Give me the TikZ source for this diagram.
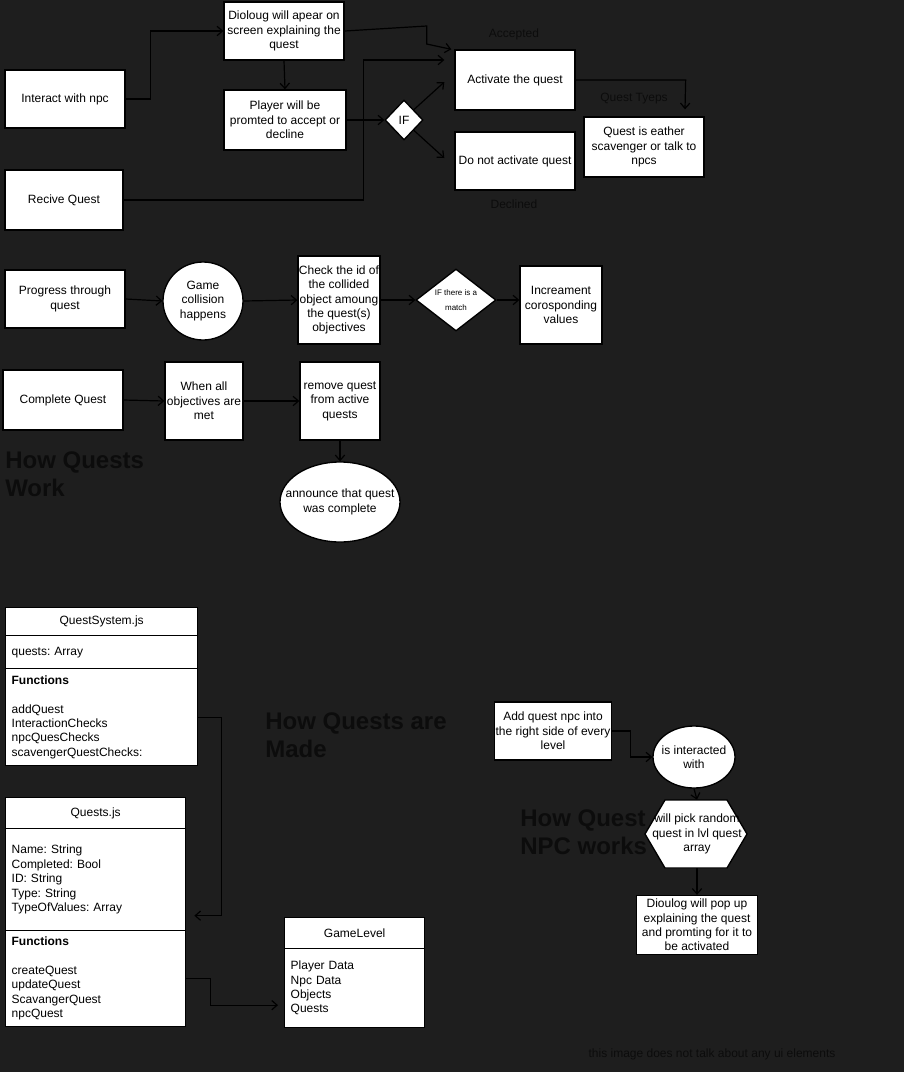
\documentclass[tikz,border=0pt]{standalone}
\usepackage{fontspec}
\setmainfont{Liberation Sans}
\frenchspacing
\usetikzlibrary{shapes.geometric,arrows.meta,calc}

\definecolor{canvas}{RGB}{30,30,30}
\definecolor{faint}{RGB}{12,12,12}

\tikzset{
  sz/.style 2 args={minimum width=#1*0.75pt,minimum height=#2*0.75pt},
  txt/.style={align=center,inner sep=0pt,font=\fontsize{9}{10.8}\selectfont},
  box/.style={txt,draw=black,line width=1pt,fill=white},
  oval/.style={draw=black,line width=1pt,fill=white,ellipse,inner sep=0pt},
  decide/.style={box,diamond},
  head/.style={box,anchor=north west},
  field/.style={draw=black,line width=1pt,fill=white,anchor=north west,inner xsep=4.5pt,inner ysep=0pt,align=left,font=\fontsize{9}{10.8}\selectfont},
  link/.style={line width=0.9pt,-{Straight Barb[length=4pt,width=7pt]}},
  note/.style={text=faint,font=\fontsize{9}{10.8}\selectfont},
  heading/.style={text=faint,font=\fontsize{18}{21}\selectfont\bfseries,align=left,anchor=west,inner sep=0pt},
}

\begin{document}
\begin{tikzpicture}[x=0.75pt,y=-0.75pt]

    \useasboundingbox (0,0) rectangle (904,1072);
    \fill[canvas] (0,0) rectangle (904,1072);

    % Getting a quest
    \node[box,sz={120}{58}] (interact) at (65,99) {Interact with npc};
    \node[box,sz={118}{60}] (receive) at (64,200) {Recive Quest};
    \node[box,sz={120}{58}] (dialog) at (284,31) {Dioloug will apear on\\screen explaining the\\quest};
    \node[box,sz={122}{60}] (prompt) at (285,120) {Player will be\\promted to accept or\\decline};
    \node[decide,sz={38}{40}] (choice) at (404,120) {IF};
    \node[box,sz={120}{60}] (activate) at (515,80) {Activate the quest};
    \node[box,sz={120}{58}] (skip) at (515,161) {Do not activate quest};
    \node[box,sz={120}{60}] (qtypes) at (644,147) {Quest is eather\\scavenger or talk to\\npcs};
    \node[note] (accepted) at (514,34) {Accepted};
    \node[note] (declined) at (514,204) {Declined};
    \node[note] (typesnote) at (634,99) {Quest Tyeps};

    \draw[link] (interact.east) -- ++(25,0) |- (dialog.west);
    \draw[link] (dialog.east) -- ++(82,-5) -- ++(0,18) -- ($(activate.north west)+(-3,0)$);
    \draw[link] (receive.east) -- ++(240,0) |- ($(activate.west)+(-10,-20)$);
    \draw[link] (dialog.south) -- (prompt.north);
    \draw[link] (prompt.east) -- (choice.west);
    \draw[link] (choice.north east) -- ($(activate.west)+(-10,2)$);
    \draw[link] (choice.south east) -- ($(skip.west)+(-10,-3)$);
    \draw[link] (activate.east) -- ++(110,0) -- ($(qtypes.north)+(41,-7)$);

    % Progressing a quest
    \node[box,sz={120}{58}] (progress) at (65,299) {Progress through\\quest};
    \node[oval,sz={80}{78}] (collide) at (203,301) {};
    \node[txt] at (collide) {Game\\collision\\happens};
    \node[box,sz={82}{88}] (checkid) at (339,300) {Check the id of\\the collided\\object amoung\\the quest(s)\\objectives};
    \node[decide,sz={80}{62},aspect=1.3,font=\fontsize{6}{11.25}\selectfont] (match) at (456,300) {IF there is a\\match};
    \node[box,sz={82}{78}] (increment) at (561,305) {Increament\\corosponding\\values};

    \draw[link] (progress.east) -- (collide.west);
    \draw[link] (collide.east) -- (checkid.west);
    \draw[link] (checkid.east) -- (match.west);
    \draw[link] (match.east) -- ($(increment.west)+(0,-5)$);

    % Completing a quest
    \node[box,sz={120}{60}] (complete) at (63,400) {Complete Quest};
    \node[box,sz={78}{78}] (allmet) at (204,401) {When all\\objectives are\\met};
    \node[box,sz={80}{78}] (remove) at (340,401) {remove quest\\from active\\quests};
    \node[oval,sz={120}{80}] (announce) at (340,502) {};
    \node[txt] at (announce) {announce that quest\\was complete};

    \draw[link] (complete.east) -- (allmet.west);
    \draw[link] (allmet.east) -- (remove.west);
    \draw[link] (remove.south) -- (announce.north);

    \node[heading] (worktitle) at (5,474) {How Quests\\Work};

    % Classes
    \node[head,sz={192}{28}] (qsHead) at (5,607) {QuestSystem.js};
    \node[field,sz={192}{33},text width=135pt] (qsAttr) at (5,635) {quests: Array};
    \node[field,sz={192}{97},text width=135pt] (qsFunc) at (5,668) {\textbf{Functions}\\\mbox{}\\addQuest\\InteractionChecks\\npcQuesChecks\\scavengerQuestChecks:};

    \node[head,sz={180}{31}] (qHead) at (5,797) {Quests.js};
    \node[field,sz={180}{102},text width=126pt] (qAttr) at (5,828) {Name: String\\Completed: Bool\\ID: String\\Type: String\\TypeOfValues: Array};
    \node[field,sz={180}{96},text width=126pt] (qFunc) at (5,930) {\textbf{Functions}\\\mbox{}\\createQuest\\updateQuest\\ScavangerQuest\\npcQuest};

    \node[head,sz={140}{31}] (gHead) at (284,917) {GameLevel};
    \node[field,sz={140}{79},text width=96pt] (gBody) at (284,948) {Player Data\\Npc Data\\Objects\\Quests};

    \draw[link] (qsFunc.east) -- ++(23,0) |- ($(qAttr.east)+(8,36)$);
    \draw[link] (qFunc.east) -- ++(24,0) |- ($(gBody.west)+(-6,17)$);

    \node[heading] (madetitle) at (265,735) {How Quests are\\Made};

    % Quest npc
    \node[box,sz={117}{58}] (addnpc) at (553,731) {Add quest npc into\\the right side of every\\level};
    \node[oval,sz={82}{62}] (interacted) at (694,757) {};
    \node[txt] at (interacted) {is interacted\\with};
    \filldraw[fill=white,draw=black,line width=1pt] (645,834) -- (665,800) -- (727,800) -- (747,834) -- (727,868) -- (665,868) -- cycle;
    \node[txt,sz={102}{68}] (pick) at (697,834) {will pick random\\quest in lvl quest\\array};
    \node[box,sz={121}{59}] (popup) at (697,925) {Dioulog will pop up\\explaining the quest\\and promting for it to\\be activated};

    \draw[link] (addnpc.east) -- ++(18,0) |- (interacted.west);
    \draw[link] (interacted.south) -- (pick.north);
    \draw[link] (pick.south) -- (popup.north);

    \node[heading] (npctitle) at (520,832) {How Quest\\NPC works};

    \node[note] (footer) at (712,1054) {this image does not talk about any ui elements};

\end{tikzpicture}
\end{document}
